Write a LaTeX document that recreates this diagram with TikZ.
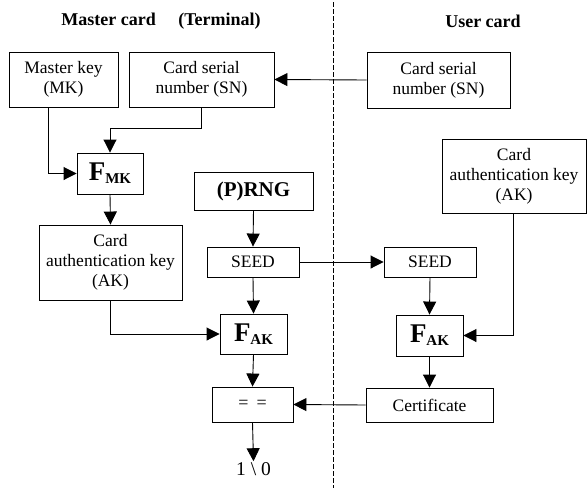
\documentclass[tikz,border=0pt]{standalone}
\usepackage{fontspec}
\setmainfont{Liberation Serif}
\usetikzlibrary{arrows.meta,calc}
\newcommand{\FSub}[1]{{\fontsize{27}{27}\selectfont\bfseries F}\raisebox{-3pt}{\fontsize{15}{15}\selectfont\bfseries #1}}
\begin{document}
\begin{tikzpicture}[x=1pt,y=-1pt,
  box/.style={draw, line width=0.9pt, inner sep=0pt, align=center,
    font=\fontsize{17.5}{20}\selectfont},
  arr/.style={line width=0.9pt, -{Triangle[length=13pt,width=13pt]}},
  title/.style={font=\fontsize{18}{20}\selectfont\bfseries, inner sep=0pt}]
\useasboundingbox (0,0) rectangle (587,488);

% divider
\coordinate (dtop) at (333,2);
\coordinate (dbot) at (333,488);
\draw[line width=0.9pt, dash pattern=on 4.5pt off 2.5pt] (dtop) -- (dbot);

% titles
\node[title] (t1) at (161,21) {Master card\hspace{1.25em}(Terminal)};
\node[title] (t2) at (483,21) {User card};

% master card side
\node[box, minimum width=109, minimum height=55] (mk) at (63.5,79.5) {Master key\\(MK)};
\node[box, minimum width=145, minimum height=55] (sn1) at (201.5,79.5) {Card serial\\number (SN)};
\node[box, minimum width=66, minimum height=41] (fmk) at (110,173.5) {\FSub{MK}};
\node[box, minimum width=143, minimum height=75] (ak1) at (110.5,262.5) {Card\\authentication key\\(AK)};
\node[box, minimum width=119, minimum height=38, font=\fontsize{21}{22}\selectfont\bfseries] (prng) at (253.5,191) {(P)RNG};
\node[box, minimum width=92, minimum height=30] (seed1) at (253,262) {SEED};
\node[box, minimum width=67, minimum height=40] (fak1) at (253.5,334) {\FSub{AK}};
\node[box, minimum width=81, minimum height=35, font=\fontsize{18}{20}\selectfont] (eq) at (252.5,404.5) {=\hspace{0.45em}=};
\node[inner sep=1pt, font=\fontsize{19.5}{20}\selectfont] (out) at (253.5,469) {1 \textbackslash\ 0};

% user card side
\node[box, minimum width=143, minimum height=56] (sn2) at (438.5,80) {Card serial\\number (SN)};
\node[box, minimum width=144, minimum height=74] (ak2) at (514,176) {Card\\authentication key\\(AK)};
\node[box, minimum width=92, minimum height=30] (seed2) at (430,262) {SEED};
\node[box, minimum width=67, minimum height=41] (fak2) at (429.5,335.5) {\FSub{AK}};
\node[box, minimum width=127, minimum height=34] (cert) at (429.5,405) {Certificate};

% connectors
\draw[arr] (sn2.west) -- (sn1.east);
\draw[arr] (sn1.south) -- ++(0,21) -| (fmk.north);
\draw[arr] ([xshift=-15.5pt]mk.south) |- (fmk.west);
\draw[arr] (fmk.south) -- (ak1.north);
\draw[arr] (ak1.south) |- (fak1.west);
\draw[arr] (prng.south) -- (seed1.north);
\draw[arr] (seed1.south) -- (fak1.north);
\draw[arr] (fak1.south) -- (eq.north);
\draw[arr] (eq.south) -- (out.north);
\draw[arr] (seed1.east) -- (seed2.west);
\draw[arr] (seed2.south) -- (fak2.north);
\draw[arr] (fak2.south) -- (cert.north);
\draw[arr] ([xshift=-1pt]ak2.south) |- (fak2.east);
\draw[arr] (cert.west) -- (eq.east);
\end{tikzpicture}
\end{document}
